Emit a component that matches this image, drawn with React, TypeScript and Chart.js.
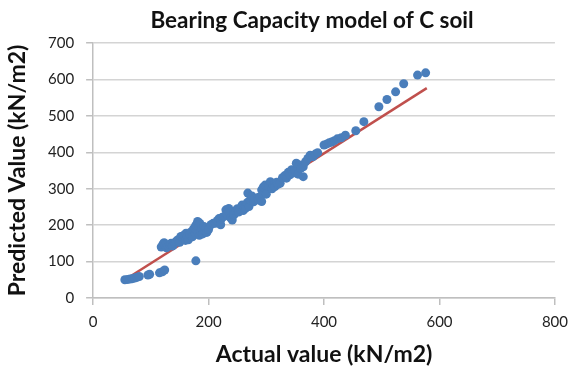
import { useEffect, useRef } from "react";
import { Chart, registerables } from "chart.js";

Chart.register(...registerables);

// Measured (actual) bearing capacity, kN/m2
const actualValues = [
  55, 60, 64, 68, 72, 76, 80, 95, 98, 115, 120, 124, 178,
  118, 121, 123, 125, 127, 130, 133, 135, 138, 141, 144, 147, 150, 152, 155, 157, 160, 161, 163, 165,
  167, 170, 172, 174, 175, 177, 178, 180, 181, 183, 184, 185, 186, 188, 190, 192, 193, 195, 197, 200,
  204, 208, 212, 215, 218, 221, 221, 224, 227, 230, 232, 235, 236, 238, 241, 243, 244, 247, 250, 252,
  255, 258, 260, 262, 264, 267, 268, 270, 272, 275, 278, 280,
  285, 287, 289, 292, 292, 295, 298, 300, 304, 307, 310, 312, 315, 318, 320, 324, 328, 332, 335, 338,
  341, 344, 346, 349, 352, 355, 358, 360, 364, 364, 368, 372, 376, 381, 385, 389,
  400, 405, 409, 413, 418, 423, 430, 437, 455, 469, 495, 509, 524, 538, 562, 576,
];

// Model-predicted bearing capacity, kN/m2
const predictedValues = [
  50, 51, 52, 53, 55, 57, 59, 63, 65, 69, 72, 77, 102,
  140, 148, 152, 145, 138, 141, 147, 150, 143, 151, 156, 160, 153, 169, 165, 172, 158, 178, 170, 160,
  174, 182, 168, 188, 192, 176, 200, 185, 210, 195, 172, 205, 183, 190, 176, 196, 185, 192, 180, 188,
  201, 205, 205, 212, 218, 214, 201, 222, 224, 242, 230, 246, 236, 220, 214, 232, 228, 240, 245, 236,
  244, 255, 240, 248, 246, 262, 288, 251, 269, 280, 264, 272,
  275, 269, 278, 297, 265, 305, 310, 285, 306, 319, 300, 308, 306, 318, 312, 315, 330, 336, 329, 345,
  338, 352, 343, 351, 370, 340, 365, 357, 360, 333, 374, 383, 392, 388, 395, 399,
  420, 423, 426, 428, 432, 437, 440, 447, 459, 484, 525, 545, 566, 588, 612, 618,
];

// Linear trend line end points
const trendX = [60, 578];
const trendY = [55, 576];

const xTicks = [0, 200, 400, 600, 800];
const yTicks = [0, 100, 200, 300, 400, 500, 600, 700];

const CHART_TITLE = "Bearing Capacity model of C soil";
const FONT = "Lato, 'Open Sans', 'DejaVu Sans', sans-serif";

// Draws the chart title slightly left of the plot-area centre, above the plot
const titlePlugin = {
  id: "chartHeading",
  afterDraw(chart: any) {
    const { ctx, chartArea } = chart;
    ctx.save();
    ctx.font = `bold 22.5px ${FONT}`;
    ctx.fillStyle = "#111";
    ctx.textAlign = "center";
    ctx.textBaseline = "alphabetic";
    ctx.fillText(CHART_TITLE, (chartArea.left + chartArea.right) / 2 - 12, 28);
    ctx.restore();
  },
};

export default function App() {
  const canvasRef = useRef<HTMLCanvasElement | null>(null);

  useEffect(() => {
    const canvas = canvasRef.current;
    if (!canvas) return;

    const points = actualValues.map((x, i) => ({ x, y: predictedValues[i] }));
    const trend = trendX.map((x, i) => ({ x, y: trendY[i] }));

    const chart = new Chart(canvas, {
      type: "scatter",
      data: {
        datasets: [
          {
            label: "Predicted",
            data: points,
            backgroundColor: "#4A7EBB",
            borderWidth: 0,
            pointRadius: 4.5,
            order: 1,
          },
          {
            type: "line",
            label: "Trend",
            data: trend,
            showLine: true,
            borderColor: "#C0504D",
            borderWidth: 2.5,
            pointRadius: 0,
            fill: false,
            order: 2,
          } as any,
        ],
      },
      plugins: [titlePlugin],
      options: {
        animation: false,
        responsive: true,
        maintainAspectRatio: false,
        layout: { padding: { left: 6, right: 12, top: 43, bottom: 1 } },
        plugins: {
          legend: { display: false },
          tooltip: { enabled: false },
          title: { display: false },
        },
        scales: {
          x: {
            type: "linear",
            min: xTicks[0],
            max: xTicks[xTicks.length - 1],
            afterBuildTicks: (scale: any) => {
              scale.ticks = xTicks.map((v) => ({ value: v }));
            },
            ticks: {
              color: "#222",
              font: { family: FONT, size: 15 },
              padding: 8,
            },
            grid: {
              drawOnChartArea: false,
              drawTicks: true,
              tickLength: 7,
              color: "#BFBFBF",
              lineWidth: 1.5,
            },
            border: { color: "#BFBFBF", width: 1.5 },
            title: {
              display: true,
              text: "Actual value (kN/m2)",
              color: "#111",
              font: { family: FONT, size: 23, weight: "bold", lineHeight: 1 },
              padding: { top: 4, bottom: 0 },
            },
          },
          y: {
            type: "linear",
            min: yTicks[0],
            max: yTicks[yTicks.length - 1],
            afterBuildTicks: (scale: any) => {
              scale.ticks = yTicks.map((v) => ({ value: v }));
            },
            ticks: {
              color: "#222",
              font: { family: FONT, size: 15 },
              padding: 12,
            },
            grid: {
              color: "#D4D4D4",
              lineWidth: 1.5,
              tickLength: 7,
              tickColor: "#BFBFBF",
            },
            border: { color: "#BFBFBF", width: 1.5 },
            title: {
              display: true,
              text: "Predicted Value (kN/m2)",
              color: "#111",
              font: { family: FONT, size: 23, weight: "bold", lineHeight: 1 },
              padding: { top: 0, bottom: 7 },
            },
          },
        },
      },
    });

    return () => chart.destroy();
  }, []);

  return (
    <div style={{ position: "absolute", left: 0, top: 0, width: 576, height: 367, background: "#fff" }}>
      <canvas ref={canvasRef} />
    </div>
  );
}
